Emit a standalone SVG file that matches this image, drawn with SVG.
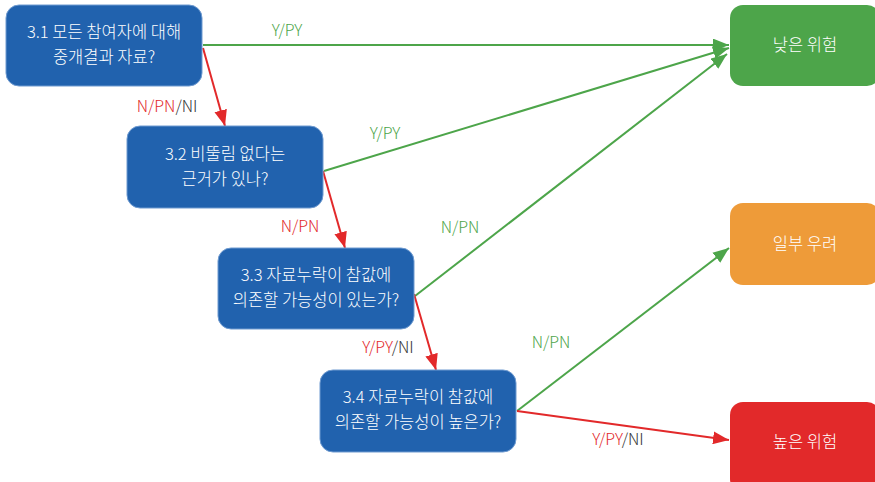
<svg xmlns="http://www.w3.org/2000/svg" width="875" height="482" viewBox="0 0 875 482">
<defs>
<style>
text{font-family:"Noto Sans CJK KR","Noto Sans",sans-serif;font-weight:300}
.q rect{fill:#2162AE;stroke:#6E9AD0;stroke-width:1}
.q text,.o text{fill:#fff;font-size:16.5px;text-anchor:middle}
.g{stroke:#4DA54A;stroke-width:2;fill:none}
.r{stroke:#E2292A;stroke-width:2;fill:none}
.lg{fill:#4DA54A;font-size:16px}
.lr{fill:#E2292A}
.lk{fill:#333}
.lab{font-size:16px}
</style>
<marker id="ag" viewBox="0 0 10 8" refX="10" refY="4" markerWidth="8" markerHeight="6.5" markerUnits="strokeWidth" orient="auto"><path d="M0,0L10,4L0,8z" fill="#4DA54A"/></marker>
<marker id="ar" viewBox="0 0 10 8" refX="10" refY="4" markerWidth="8" markerHeight="6.5" markerUnits="strokeWidth" orient="auto"><path d="M0,0L10,4L0,8z" fill="#E2292A"/></marker>
</defs>
<g id="connectors">
<line class="g" x1="203" y1="45" x2="729" y2="45" marker-end="url(#ag)"/>
<line class="g" x1="324" y1="171" x2="729" y2="48" marker-end="url(#ag)"/>
<line class="g" x1="415" y1="296" x2="727" y2="54" marker-end="url(#ag)"/>
<line class="g" x1="517" y1="411" x2="729" y2="248" marker-end="url(#ag)"/>
<line class="r" x1="517" y1="411" x2="729" y2="440" marker-end="url(#ar)"/>
<line class="r" x1="203" y1="48" x2="225" y2="126" marker-end="url(#ar)"/>
<line class="r" x1="323" y1="171" x2="345" y2="248" marker-end="url(#ar)"/>
<line class="r" x1="414" y1="294" x2="436" y2="370" marker-end="url(#ar)"/>
<text class="lg" x="287" y="36" text-anchor="middle">Y/PY</text>
<text class="lg" x="385" y="139" text-anchor="middle">Y/PY</text>
<text class="lg" x="460" y="233" text-anchor="middle">N/PN</text>
<text class="lg" x="551" y="348" text-anchor="middle">N/PN</text>
<text class="lab" x="167" y="112" text-anchor="middle"><tspan class="lr">N/PN</tspan><tspan class="lk">/NI</tspan></text>
<text class="lab lr" x="300" y="232" text-anchor="middle">N/PN</text>
<text class="lab" x="388" y="353" text-anchor="middle"><tspan class="lr">Y/PY</tspan><tspan class="lk">/NI</tspan></text>
<text class="lab" x="618" y="445" text-anchor="middle"><tspan class="lr">Y/PY</tspan><tspan class="lk">/NI</tspan></text>
</g>
<g id="q1" class="q"><rect x="6" y="5" width="196" height="81" rx="13"/><text x="104" y="38">3.1 모든 참여자에 대해</text><text x="104" y="63">중개결과 자료?</text></g>
<g id="q2" class="q"><rect x="127" y="126" width="196" height="82" rx="13"/><text x="225" y="160">3.2 비뚤림 없다는</text><text x="225" y="185">근거가 있나?</text></g>
<g id="q3" class="q"><rect x="218" y="248" width="196" height="81" rx="13"/><text x="316" y="281">3.3 자료누락이 참값에</text><text x="316" y="306">의존할 가능성이 있는가?</text></g>
<g id="q4" class="q"><rect x="320" y="370" width="196" height="82" rx="13"/><text x="418" y="403">3.4 자료누락이 참값에</text><text x="418" y="428">의존할 가능성이 높은가?</text></g>
<g id="low" class="o"><rect x="730" y="5" width="150" height="81" rx="13" fill="#4DA54A"/><text x="805" y="51">낮은 위험</text></g>
<g id="some" class="o"><rect x="730" y="203" width="150" height="82" rx="13" fill="#EE9B39"/><text x="805" y="250">일부 우려</text></g>
<g id="high" class="o"><rect x="730" y="402" width="150" height="90" rx="13" fill="#E2292A"/><text x="805" y="448">높은 위험</text></g>
</svg>
